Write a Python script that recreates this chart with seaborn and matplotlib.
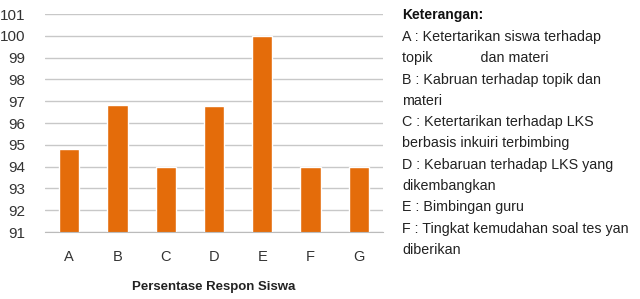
import matplotlib.pyplot as plt
import seaborn as sns
import pandas as pd
import numpy as np

# data
categories = ['A', 'B', 'C', 'D', 'E', 'F', 'G']
values = [94.8, 96.85, 94.0, 96.8, 100.0, 94.0, 94.0]
y_ticks = list(range(91, 102))
legend_lines = [
    'A : Ketertarikan siswa terhadap',
    'topik            dan materi',
    'B : Kabruan terhadap topik dan',
    'materi',
    'C : Ketertarikan terhadap LKS',
    'berbasis inkuiri terbimbing',
    'D : Kebaruan terhadap LKS yang',
    'dikembangkan',
    'E : Bimbingan guru',
    'F : Tingkat kemudahan soal tes yan',
    'diberikan',
]

df = pd.DataFrame({'cat': categories, 'val': values})

sns.set_style('white')
plt.rcParams['font.family'] = ['Liberation Sans', 'DejaVu Sans']

fig = plt.figure(figsize=(6.4, 2.99), dpi=100)
ax = fig.add_axes([0.0703, 0.224, 0.528, 0.729])

sns.barplot(ax=ax, data=df, x='cat', y='val', color='#E46C0A',
            width=0.42, saturation=1)

ax.set_ylim(91, 101)
ax.set_xlim(-0.5, len(categories) - 0.5)
ax.set_yticks(y_ticks)
ax.tick_params(axis='y', length=0, labelsize=11, colors='#333333', pad=14)
ax.tick_params(axis='x', which='major', length=0, labelsize=10.5, colors='#333333', pad=13)
ax.set_xticks(np.arange(-0.5, len(categories), 1.0), minor=True)
ax.tick_params(axis='x', which='minor', length=6, color='#BBBBBB', width=0.8)
ax.yaxis.grid(True, color='#C8C8C8', linewidth=1)
ax.set_axisbelow(True)
for s in ['left', 'right', 'top']:
    ax.spines[s].set_visible(False)
ax.spines['bottom'].set_color('#BBBBBB')
ax.set_ylabel('')
ax.set_xlabel('Persentase Respon Siswa', fontsize=9.5, fontweight='bold',
              color='#222222', labelpad=12)

# legend notes on the right
x0 = 402 / 640
fig.text(x0, 1 - 15 / 299, 'Keterangan:', fontsize=10, fontweight='bold',
         va='center', ha='left', color='#111111')
for i, line in enumerate(legend_lines):
    y = 1 - (37 + i * 21.3) / 299
    fig.text(x0, y, line, fontsize=10.3, va='center', ha='left', color='#222222')

fig.savefig('out.png', dpi=100)
